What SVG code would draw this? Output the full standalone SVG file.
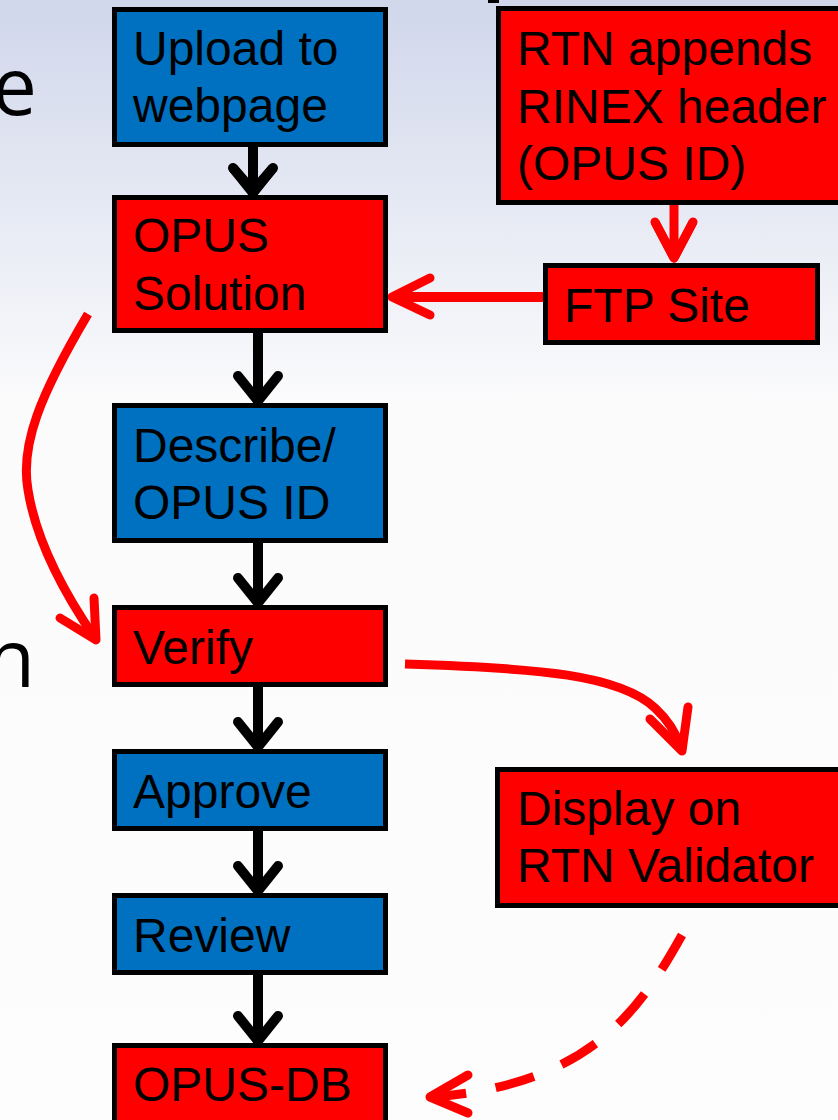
<svg xmlns="http://www.w3.org/2000/svg" width="838" height="1120" viewBox="0 0 838 1120">
<defs>
<linearGradient id="bg" x1="0" y1="0" x2="0" y2="1120" gradientUnits="userSpaceOnUse">
<stop offset="0" stop-color="#d0d7eb"/>
<stop offset="0.36" stop-color="#fbfbfc"/>
<stop offset="1" stop-color="#fdfdfd"/>
</linearGradient>
<style>
.box{stroke:#000;stroke-width:5}
.blue{fill:#0070c0}
.red{fill:#ff0000}
.lbl{font-family:"Liberation Sans",Arial,sans-serif;font-size:48px;fill:#000}
.side{font-family:"Open Sans","Noto Sans",sans-serif;font-size:80px;fill:#000}
.blk{fill:none;stroke:#000;stroke-width:10;stroke-linecap:round;stroke-linejoin:round}
.rd{fill:none;stroke:#ff0000;stroke-width:9;stroke-linecap:round;stroke-linejoin:round}
</style>
</defs>
<rect x="0" y="0" width="838" height="1120" fill="url(#bg)"/>
<rect x="488" y="0" width="11" height="3" fill="#000"/>
<text class="side" x="37" y="115" text-anchor="end">e</text>
<text class="side" x="35" y="687" text-anchor="end">n</text>

<g id="connectors">
<path class="blk" d="M253 146 V190 M233 168 L253 193 L273 168" style="stroke-linecap:butt"/>
<path class="blk" d="M233 168 L253 191 L273 168"/>
<path class="blk" d="M258 333 V398 M238 376 L258 401 L278 376"/>
<path class="blk" d="M258 543 V600 M238 578 L258 603 L278 578"/>
<path class="blk" d="M258 687 V744 M238 722 L258 747 L278 722"/>
<path class="blk" d="M258 831 V888 M238 866 L258 891 L278 866"/>
<path class="blk" d="M258 975 V1038 M238 1016 L258 1041 L278 1016"/>
<path class="rd" d="M674 205 V258 M655 222 L674 258 L693 222" style="stroke-linecap:butt"/>
<path class="rd" d="M655 222 L674 258 L693 222"/>
<path class="rd" d="M543 297 H392" style="stroke-linecap:butt;stroke-width:10"/>
<path class="rd" d="M430 278 L392 297 L430 315"/>
<path class="rd" d="M88 314 C40 395 20 445 28 490 C36 540 62 590 95 638" style="stroke-linecap:butt"/>
<path class="rd" d="M60 618 L96 640 L94 598"/>
<path class="rd" d="M405 664 C540 668 620 675 655 708 C668 720 676 732 681 748" style="stroke-linecap:butt"/>
<path class="rd" d="M650 719 L682 751 L688 707"/>
<path class="rd" d="M682 935 C640 1010 590 1085 432 1097" style="stroke-linecap:butt" stroke-dasharray="40 30"/>
<path class="rd" d="M468 1075 L430 1097 L468 1113"/>
</g>

<g id="upload"><rect class="box blue" x="114.5" y="9.5" width="271" height="135"/>
<text class="lbl" x="133" y="65">Upload to</text><text class="lbl" x="133" y="122">webpage</text></g>
<g id="opus-solution"><rect class="box red" x="114.5" y="197.5" width="271" height="133"/>
<text class="lbl" x="133" y="252">OPUS</text><text class="lbl" x="133" y="310">Solution</text></g>
<g id="describe"><rect class="box blue" x="114.5" y="405.5" width="271" height="135"/>
<text class="lbl" x="133" y="462">Describe/</text><text class="lbl" x="133" y="519">OPUS ID</text></g>
<g id="verify"><rect class="box red" x="114.5" y="607.5" width="271" height="77"/>
<text class="lbl" x="133" y="664">Verify</text></g>
<g id="approve"><rect class="box blue" x="114.5" y="751.5" width="271" height="77"/>
<text class="lbl" x="133" y="808">Approve</text></g>
<g id="review"><rect class="box blue" x="114.5" y="895.5" width="271" height="77"/>
<text class="lbl" x="133" y="952">Review</text></g>
<g id="opus-db"><rect class="box red" x="114.5" y="1045.5" width="271" height="90"/>
<text class="lbl" x="133" y="1101">OPUS-DB</text></g>
<g id="rtn"><rect class="box red" x="498.5" y="8.5" width="360" height="194"/>
<text class="lbl" x="517" y="65">RTN appends</text><text class="lbl" x="517" y="123">RINEX header</text><text class="lbl" x="517" y="180">(OPUS ID)</text></g>
<g id="ftp"><rect class="box red" x="545.5" y="265.5" width="272" height="77"/>
<text class="lbl" x="564" y="322">FTP Site</text></g>
<g id="display"><rect class="box red" x="497.5" y="769.5" width="360" height="136"/>
<text class="lbl" x="517" y="825">Display on</text><text class="lbl" x="517" y="882">RTN Validator</text></g>
</svg>
